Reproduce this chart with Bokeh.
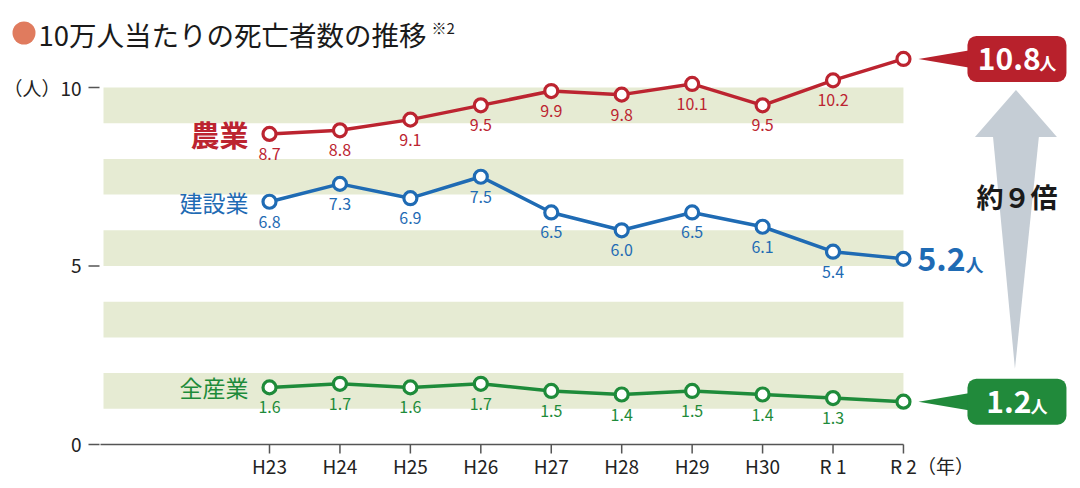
from bokeh.plotting import figure
from bokeh.models import Range1d, FixedTicker
from bokeh.core.properties import value
from bokeh.embed import file_html
from bokeh.resources import INLINE

# ---------------- data ----------------
years = ["H23", "H24", "H25", "H26", "H27", "H28", "H29", "H30", "R 1", "R 2"]
agri = [8.7, 8.8, 9.1, 9.5, 9.9, 9.8, 10.1, 9.5, 10.2, 10.8]
constr = [6.8, 7.3, 6.9, 7.5, 6.5, 6.0, 6.5, 6.1, 5.4, 5.2]
allind = [1.6, 1.7, 1.6, 1.7, 1.5, 1.4, 1.5, 1.4, 1.3, 1.2]
series_names = ["農業", "建設業", "全産業"]
y_ticks = [0, 5, 10]
band_bottoms = [1, 3, 5, 7, 9]
band_tops = [2, 4, 6, 8, 10]
title_text = "10万人当たりの死亡者数の推移"
note_text = "※2"
y_unit = "（人）"
x_unit = "（年）"
ratio_text = "約９倍"
unit_char = "人"

# ---------------- styling ----------------
FONT = "Noto Sans CJK JP"
RED, BLUE, GREEN = "#BC2430", "#1F6BB4", "#1E8B3A"
RED_BOX, GREEN_BOX = "#B8212C", "#218A3B"
BAND = "#E6EBD3"
ARROW = "#C5CDD5"
AXIS = "#555555"
TXT = "#1a1a1a"

XS, YS = 70.44, 35.7        # px per data unit
X0_PX, Y0_PX = 269, 444     # picture px of first category / of y = 0
FW, FH = 1078, 456          # frame size (frame starts at picture top-left)


def dx(px):
    return px / XS


def dy(px):
    return px / YS


def px2x(px):
    return (px - X0_PX) / XS


def px2y(py):
    return (Y0_PX - py) / YS


x_start, x_end = px2x(0), px2x(FW)
y_start, y_end = px2y(FH), px2y(0)

xs = list(range(len(years)))
last = xs[-1]

p = figure(frame_width=FW, frame_height=FH, x_range=Range1d(x_start, x_end),
           y_range=Range1d(y_start, y_end),
           output_backend="svg", toolbar_location=None,
           min_border_left=0, min_border_right=0, min_border_top=0, min_border_bottom=0)
p.outline_line_color = None
p.grid.visible = False
p.background_fill_color = "white"
p.yaxis.visible = False

# x axis: library axis supplies the category labels
axis_left = px2x(100)
p.xaxis.ticker = FixedTicker(ticks=xs)
overrides = {i: t for i, t in enumerate(years)}
overrides[last] = "\u3000\u3000\u3000" + years[-1] + x_unit
p.xaxis.major_label_overrides = overrides
p.xaxis.axis_line_color = None
p.xaxis.major_tick_in = 0
p.xaxis.major_tick_out = 0
p.xaxis.major_tick_line_color = None
p.xaxis.minor_tick_line_color = None
p.xaxis.major_label_standoff = -5
p.xaxis.major_label_text_font = FONT
p.xaxis.major_label_text_font_size = "19px"
p.xaxis.major_label_text_color = "#222"

# baseline and category ticks at y = 0
p.segment(x0=[axis_left], y0=[0], x1=[last], y1=[0], line_color=AXIS, line_width=1.5)
p.segment(x0=xs, y0=[0] * len(xs), x1=xs, y1=[-dy(9)] * len(xs),
          line_color=AXIS, line_width=1.5)

# y ticks and labels positioned with the y scale
p.segment(x0=[axis_left - dx(12)] * len(y_ticks), y0=y_ticks,
          x1=[axis_left - dx(1)] * len(y_ticks), y1=y_ticks,
          line_color=AXIS, line_width=1.5)
y_labels = [str(t) for t in y_ticks]
y_labels[-1] = y_unit + y_labels[-1]
p.text([axis_left - dx(19)] * len(y_ticks), y_ticks, text=y_labels,
       text_align="right", text_baseline="middle", text_font=value(FONT),
       text_font_size="19px", text_color="#222")

# bands
p.quad(left=axis_left + dx(3), right=last, bottom=band_bottoms, top=band_tops,
       fill_color=BAND, line_color=None)

# series
for vals, col, name, big in [(agri, RED, series_names[0], True),
                             (constr, BLUE, series_names[1], False),
                             (allind, GREEN, series_names[2], False)]:
    p.line(xs, vals, line_color=col, line_width=3.5)
    p.scatter(xs, vals, size=13, fill_color="white", line_color=col, line_width=3.2)
    p.text(xs[:-1], vals[:-1], text=[f"{v:.1f}" for v in vals[:-1]],
           text_align="center", text_baseline="middle", y_offset=20,
           text_font=value(FONT), text_font_size="16px", text_color=col)
    p.text([xs[0]], [vals[0]], text=[name], x_offset=-21, text_align="right",
           text_baseline="middle", text_font=value(FONT),
           text_font_size="29px" if big else "23px",
           text_font_style="bold" if big else "normal", text_color=col)

# blue end label
p.text([last], [constr[-1]], text=[f"{constr[-1]:.1f}"], x_offset=14, text_align="left",
       text_baseline="middle", text_font=value(FONT), text_font_size="32px",
       text_font_style="bold", text_color=BLUE)
p.text([last], [constr[-1]], text=[unit_char], x_offset=62, y_offset=5, text_align="left",
       text_baseline="middle", text_font=value(FONT), text_font_size="18px",
       text_font_style="bold", text_color=BLUE)

# callouts
box_l, box_r = last + dx(64), last + dx(163)
box_cx = (box_l + box_r) / 2
half_h = dy(23)
for v, col in [(agri[-1], RED_BOX), (allind[-1], GREEN_BOX)]:
    p.patch([last + dx(15), box_l + dx(4), box_l + dx(4)], [v, v + dy(9), v - dy(9)],
            fill_color=col, line_color=None)
    p.quad(left=box_l, right=box_r, bottom=v - half_h, top=v + half_h,
           fill_color=col, line_color=None, border_radius=9)
    s = f"{v:.1f}"
    wd = sum(0.57 if c.isdigit() else 0.27 for c in s) * 30
    total = wd + 2 + 17
    start_px = -total / 2
    p.text([box_cx], [v], text=[s], x_offset=start_px, text_align="left",
           text_baseline="middle", text_font=value(FONT), text_font_size="30px",
           text_font_style="bold", text_color="white")
    p.text([box_cx], [v], text=[unit_char], x_offset=start_px + wd + 2, y_offset=4,
           text_align="left", text_baseline="middle", text_font=value(FONT),
           text_font_size="17px", text_font_style="bold", text_color="white")

# gray arrow
tip_y = agri[-1] - half_h - dy(8)
head_base = tip_y - dy(47)
end_y = allind[-1] + half_h + dy(10)
p.patch([box_cx - dx(1), box_cx - dx(42), box_cx + dx(40)], [tip_y, head_base, head_base],
        fill_color=ARROW, line_color=None)
p.patch([box_cx - dx(24), box_cx + dx(22), box_cx - dx(2)],
        [head_base + dy(1), head_base + dy(1), end_y],
        fill_color=ARROW, line_color=None)
p.text([box_cx], [px2y(196)], text=[ratio_text], text_align="center",
       text_baseline="middle", text_font=value(FONT), text_font_size="27px",
       text_font_style="bold", text_color=TXT)

# title
p.scatter([px2x(23.5)], [px2y(32.5)], size=23, marker="circle",
          fill_color="#E07B5E", line_color=None)
p.text([px2x(38)], [px2y(33)], text=[title_text], text_align="left",
       text_baseline="middle", text_font=value(FONT), text_font_size="27.5px",
       text_color=TXT)
p.text([px2x(431)], [px2y(27)], text=[note_text], text_align="left",
       text_baseline="middle", text_font=value(FONT), text_font_size="15px",
       text_color=TXT)

open("out.html", "w").write(file_html(p, INLINE))
